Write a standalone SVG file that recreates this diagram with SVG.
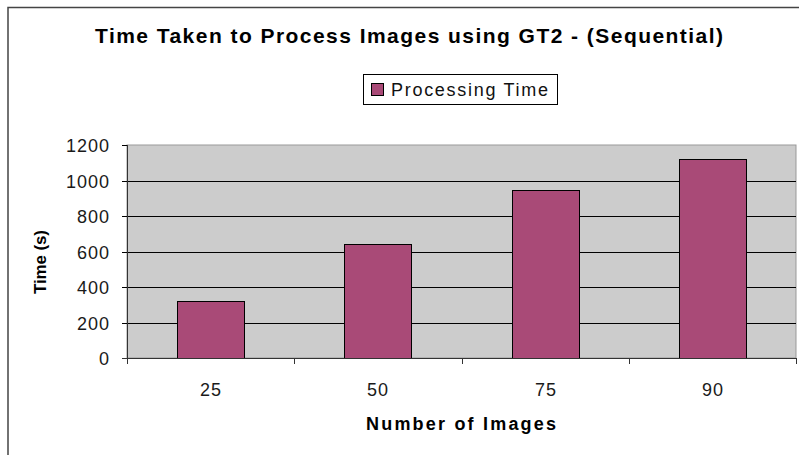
<svg xmlns="http://www.w3.org/2000/svg" width="799" height="455" viewBox="0 0 799 455">
<style>
.t{font-family:"Liberation Sans",Arial,sans-serif}
.tick{font-size:18px;fill:#1a1a1a;letter-spacing:1px}
.bold{font-weight:bold;fill:#000}
.bar{fill:#a94a77;stroke:#000;stroke-width:1}
.grid{stroke:#000;stroke-width:1}
.axis{stroke:#333;stroke-width:1}
</style>
<rect x="0" y="0" width="799" height="455" fill="#fff"/>
<rect x="8" y="7.5" width="800" height="460" fill="none" stroke="#444" stroke-width="1.5"/>
<text class="t bold" x="95" y="43" font-size="21" textLength="628" lengthAdjust="spacing">Time Taken to Process Images using GT2 - (Sequential)</text>
<g id="legend">
<rect x="363.5" y="74.5" width="194" height="30" fill="#fff" stroke="#000"/>
<rect x="371.5" y="83.5" width="12" height="12" class="bar"/>
<text class="t" x="391" y="96" font-size="18" fill="#111" textLength="157" lengthAdjust="spacing">Processing Time</text>
</g>
<g id="plot">
<rect x="127" y="145" width="669" height="213" fill="#cccccc" stroke="#999" stroke-width="1"/>
</g>
<g id="gridlines">
<line class="grid" x1="122" y1="181.5" x2="796" y2="181.5"/>
<line class="grid" x1="122" y1="216.5" x2="796" y2="216.5"/>
<line class="grid" x1="122" y1="252.5" x2="796" y2="252.5"/>
<line class="grid" x1="122" y1="287.5" x2="796" y2="287.5"/>
<line class="grid" x1="122" y1="323.5" x2="796" y2="323.5"/>
<line class="grid" x1="122" y1="145.5" x2="127" y2="145.5"/>
</g>
<g id="bars">
<rect id="bar-25" class="bar" x="177.5" y="301.5" width="67" height="57"/>
<rect id="bar-50" class="bar" x="344.5" y="244.5" width="67" height="114"/>
<rect id="bar-75" class="bar" x="512.5" y="190.5" width="67" height="168"/>
<rect id="bar-90" class="bar" x="679.5" y="159.5" width="67" height="199"/>
</g>
<g id="axes">
<line class="axis" x1="127.5" y1="145" x2="127.5" y2="364"/>
<line class="axis" x1="122" y1="358.5" x2="797" y2="358.5"/>
<line class="axis" x1="294.5" y1="358" x2="294.5" y2="364"/>
<line class="axis" x1="462.5" y1="358" x2="462.5" y2="364"/>
<line class="axis" x1="629.5" y1="358" x2="629.5" y2="364"/>
<line class="axis" x1="796.5" y1="358" x2="796.5" y2="364"/>
</g>
<g id="y-labels" class="t tick" text-anchor="end">
<text x="110" y="151.5">1200</text>
<text x="110" y="187.5">1000</text>
<text x="110" y="222.5">800</text>
<text x="110" y="258.5">600</text>
<text x="110" y="293.5">400</text>
<text x="110" y="329.5">200</text>
<text x="110" y="364.5">0</text>
</g>
<g id="x-labels" class="t tick" text-anchor="middle">
<text x="211" y="396">25</text>
<text x="378" y="396">50</text>
<text x="546" y="396">75</text>
<text x="713" y="396">90</text>
</g>
<text class="t bold" x="366" y="430" font-size="18" textLength="190" lengthAdjust="spacing">Number of Images</text>
<text class="t bold" transform="translate(46,294) rotate(-90)" x="0" y="0" font-size="17" textLength="64" lengthAdjust="spacing">Time (s)</text>
</svg>
